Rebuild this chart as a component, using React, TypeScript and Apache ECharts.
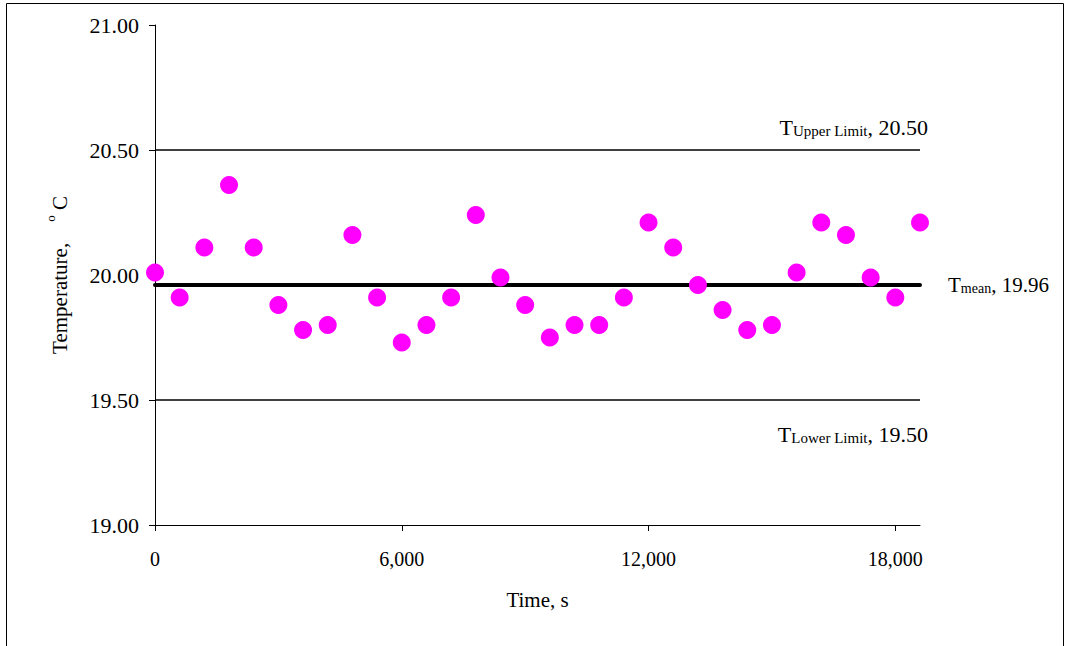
import React, { useEffect, useRef } from "react";
import * as echarts from "echarts";

const timeS = [
  0, 600, 1200, 1800, 2400, 3000, 3600, 4200, 4800, 5400, 6000, 6600, 7200, 7800, 8400, 9000,
  9600, 10200, 10800, 11400, 12000, 12600, 13200, 13800, 14400, 15000, 15600, 16200, 16800,
  17400, 18000, 18600,
];
const tempC = [
  20.01, 19.91, 20.11, 20.36, 20.11, 19.88, 19.78, 19.8, 20.16, 19.91, 19.73, 19.8, 19.91, 20.24,
  19.99, 19.88, 19.75, 19.8, 19.8, 19.91, 20.21, 20.11, 19.96, 19.86, 19.78, 19.8, 20.01, 20.21,
  20.16, 19.99, 19.91, 20.21,
];
const xTickValues = [0, 6000, 12000, 18000];
const yMin = 19;
const yMax = 21;
const yInterval = 0.5;
const xMin = 0;
const xMax = 18600;
const upperLimit = 20.5;
const lowerLimit = 19.5;
const meanT = 19.96;

const FONT = "Liberation Serif, Times New Roman, serif";

export default function App() {
  const ref = useRef<HTMLDivElement>(null);
  useEffect(() => {
    const chart = echarts.init(ref.current!, null, { renderer: "svg" });
    const points = timeS.map((t, i) => [t, tempC[i]]);
    chart.setOption({
      animation: false,
      backgroundColor: "#ffffff",
      grid: { left: 155, right: 148, top: 25, bottom: 121, containLabel: false },
      xAxis: {
        type: "value",
        min: xMin,
        max: xMax,
        splitLine: { show: false },
        axisLine: { show: true, lineStyle: { color: "#000", width: 1 } },
        axisTick: { show: true, inside: false, length: 6, customValues: xTickValues, lineStyle: { color: "#000" } },
        axisLabel: {
          customValues: xTickValues,
          margin: 24,
          color: "#000",
          fontFamily: FONT,
          fontSize: 20,
          formatter: (v: number) => v.toLocaleString("en-US"),
        },
        name: "Time, s",
        nameLocation: "middle",
        nameGap: 64,
        nameTextStyle: { color: "#000", fontFamily: FONT, fontSize: 21 },
      },
      yAxis: {
        type: "value",
        min: yMin,
        max: yMax,
        interval: yInterval,
        splitLine: { show: false },
        axisLine: { show: true, lineStyle: { color: "#000", width: 1 } },
        axisTick: { show: true, inside: false, length: 6, lineStyle: { color: "#000" } },
        axisLabel: {
          margin: 16,
          color: "#000",
          fontFamily: FONT,
          fontSize: 22,
          formatter: (v: number) => v.toFixed(2),
        },
        name: "{a|Temperature,    }{s|o}{a| C}",
        nameLocation: "middle",
        nameGap: 85,
        nameRotate: 90,
        nameTextStyle: {
          color: "#000",
          fontFamily: FONT,
          fontSize: 21,
          rich: {
            a: { fontFamily: FONT, fontSize: 21, color: "#000", lineHeight: 26, verticalAlign: "bottom" },
            s: { fontFamily: FONT, fontSize: 13, color: "#000", lineHeight: 26, verticalAlign: "top" },
          },
        },
      },
      series: [
        {
          type: "line",
          data: [[xMin, upperLimit], [xMax, upperLimit]],
          symbol: "none",
          lineStyle: { color: "#000", width: 1.3 },
          z: 2,
          silent: true,
        },
        {
          type: "line",
          data: [[xMin, lowerLimit], [xMax, lowerLimit]],
          symbol: "none",
          lineStyle: { color: "#000", width: 1.3 },
          z: 2,
          silent: true,
        },
        {
          type: "line",
          data: [[xMin, meanT], [xMax, meanT]],
          symbol: "none",
          lineStyle: { color: "#000", width: 4, cap: "round" },
          z: 3,
          silent: true,
        },
        {
          type: "scatter",
          data: points,
          symbol: "circle",
          symbolSize: 18,
          itemStyle: { color: "#ff00ff", opacity: 1 },
          z: 5,
        },
      ],
    });

    const pU = chart.convertToPixel({ gridIndex: 0 }, [xMax, upperLimit]) as number[];
    const pL = chart.convertToPixel({ gridIndex: 0 }, [xMax, lowerLimit]) as number[];
    const pM = chart.convertToPixel({ gridIndex: 0 }, [xMax, meanT]) as number[];
    const richLimit = {
      t: { fontFamily: FONT, fontSize: 22, fill: "#000", lineHeight: 24, verticalAlign: "bottom" },
      s: { fontFamily: FONT, fontSize: 15, fill: "#000", lineHeight: 24, verticalAlign: "bottom" },
    };
    const richMean = {
      t: { fontFamily: FONT, fontSize: 21, fill: "#000", lineHeight: 24, verticalAlign: "bottom" },
      s: { fontFamily: FONT, fontSize: 14, fill: "#000", lineHeight: 24, verticalAlign: "bottom" },
    };
    chart.setOption({
      graphic: [
        {
          type: "rect",
          shape: { x: 6.5, y: 3.5, width: 1057, height: 700 },
          style: { fill: "none", stroke: "#000", lineWidth: 1 },
          silent: true,
          z: 0,
        },
        {
          type: "text",
          x: pU[0] + 8,
          y: pU[1] - 24,
          style: {
            text: "{t|T}{s|Upper Limit}{t|, " + upperLimit.toFixed(2) + "}",
            rich: richLimit,
            align: "right",
            verticalAlign: "middle",
          },
        },
        {
          type: "text",
          x: pL[0] + 8,
          y: pL[1] + 33,
          style: {
            text: "{t|T}{s|Lower Limit}{t|, " + lowerLimit.toFixed(2) + "}",
            rich: richLimit,
            align: "right",
            verticalAlign: "middle",
          },
        },
        {
          type: "text",
          x: pM[0] + 28,
          y: pM[1] - 2,
          style: {
            text: "{t|T}{s|mean}{t|, " + meanT.toFixed(2) + "}",
            rich: richMean,
            align: "left",
            verticalAlign: "middle",
          },
        },
      ],
    });
    return () => chart.dispose();
  }, []);
  return (
    <div
      ref={ref}
      style={{ position: "absolute", left: 0, top: 0, width: 1068, height: 646, background: "#fff" }}
    />
  );
}
